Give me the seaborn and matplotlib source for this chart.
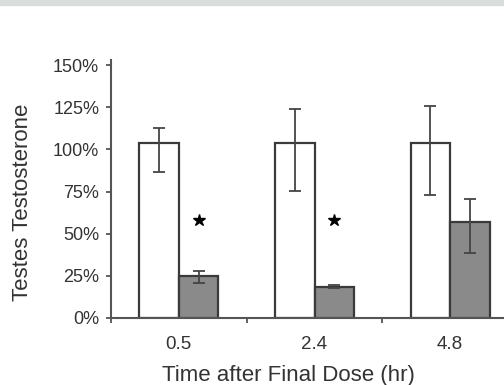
import pandas as pd
import matplotlib
matplotlib.use('Agg')
import matplotlib.pyplot as plt
import matplotlib.patches as mpatches
from matplotlib.ticker import PercentFormatter
import seaborn as sns

# values (percent of control)
times = ['0.5', '2.4', '4.8']
control = [104, 104, 104]
control_lo = [86.5, 75.5, 73]
control_hi = [112.5, 124, 126]
treated = [25, 18.5, 57]
treated_lo = [21, 17.5, 38.5]
treated_hi = [28, 19.7, 70.5]
star_times = ['0.5', '2.4']
star_y = 58

df = pd.DataFrame({
    'Time': times * 2,
    'Group': ['control'] * 3 + ['treated'] * 3,
    'Value': control + treated,
})

sns.set_style('white')
plt.rcParams['font.family'] = ['Liberation Sans', 'DejaVu Sans']
txt = '#333333'

fig = plt.figure(figsize=(5.04, 3.85), dpi=100)
fig.patches.append(mpatches.Rectangle((0, 1 - 5 / 385), 1, 5 / 385, transform=fig.transFigure,
                                      color='#d8deda', zorder=0))
ax = fig.add_axes([111 / 504, 67 / 385, 407 / 504, 258 / 385])

sns.barplot(data=df, x='Time', y='Value', hue='Group', palette=['white', '#8a8a8a'],
            edgecolor='#3a3a3a', linewidth=1.6, width=0.58, errorbar=None, legend=False, ax=ax)

lows = [control_lo, treated_lo]
highs = [control_hi, treated_hi]
means = [control, treated]
for cont, m, lo, hi in zip(ax.containers, means, lows, highs):
    xs = [p.get_x() + p.get_width() / 2 for p in cont.patches]
    yerr = [[a - b for a, b in zip(m, lo)], [b - a for a, b in zip(m, hi)]]
    ax.errorbar(xs, m, yerr=yerr, fmt='none', ecolor='#444444', elinewidth=1.3,
                capsize=4.5, capthick=1.3, zorder=5)

# significance stars above the treated bars
star_x = [ax.containers[1].patches[times.index(t)].get_x() + ax.containers[1].patches[0].get_width() / 2
          for t in star_times]
ax.plot(star_x, [star_y] * len(star_x), marker='*', linestyle='none', color='black', markersize=9)

ax.set_xlim(-0.5, 2.5)
ax.set_ylim(0, 153)
ax.set_yticks([0, 25, 50, 75, 100, 125, 150])
ax.yaxis.set_major_formatter(PercentFormatter(decimals=0))
ax.set_xticks([-0.5, 0.5, 1.5], minor=True)

for s in ['top', 'right']:
    ax.spines[s].set_visible(False)
for s in ['left', 'bottom']:
    ax.spines[s].set_color('#555555')
    ax.spines[s].set_linewidth(1.5)

ax.tick_params(axis='y', which='major', left=True, length=3.5, width=1.3, color='#555555',
               pad=5, labelsize=13, labelcolor=txt)
ax.tick_params(axis='x', which='major', bottom=False, length=0, pad=13, labelsize=13.5, labelcolor=txt)
ax.tick_params(axis='x', which='minor', bottom=True, length=3.5, width=1.3, color='#555555')

ax.set_xlabel('Time after Final Dose (hr)', fontsize=16, color=txt)
ax.set_ylabel('Testes Testosterone', fontsize=16, color=txt)
ax.xaxis.set_label_coords(0.437, -0.182)
ax.yaxis.set_label_coords(-0.192, 0.45)

fig.savefig('out.png', dpi=100)
